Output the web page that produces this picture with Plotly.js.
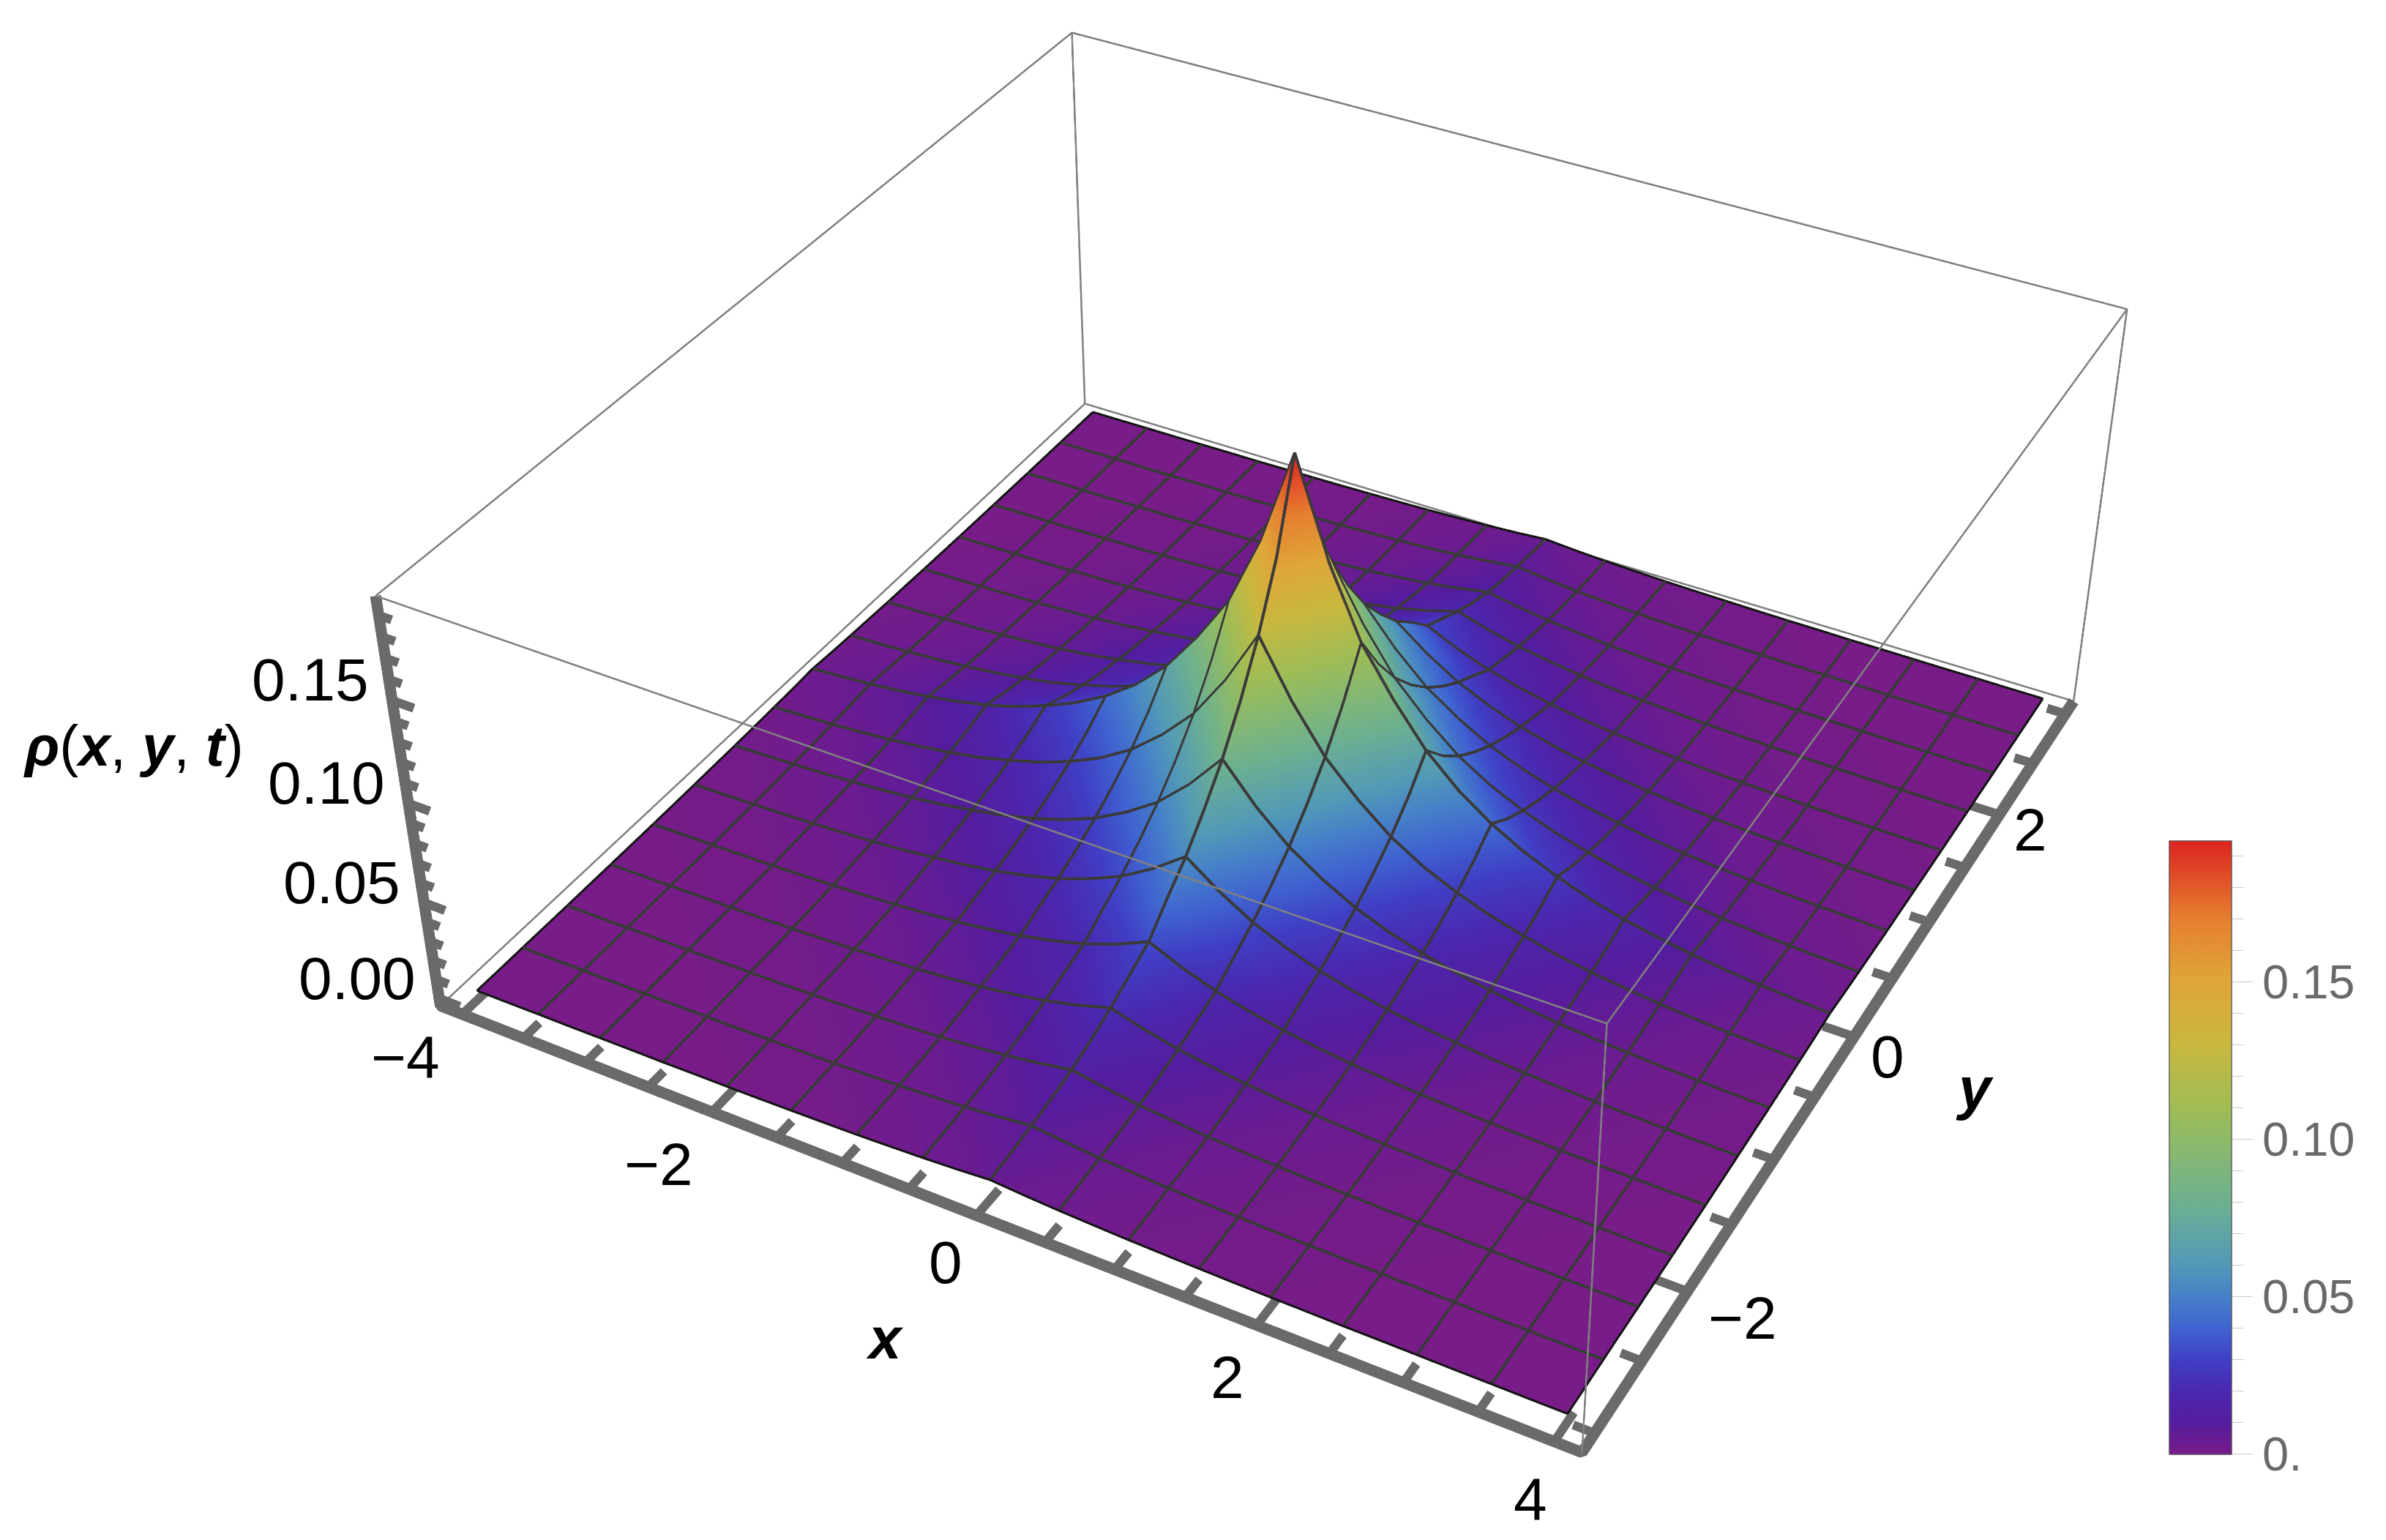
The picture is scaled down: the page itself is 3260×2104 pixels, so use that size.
<!DOCTYPE html>
<html><head><meta charset="utf-8">
<script src="https://cdn.plot.ly/plotly-3.0.1.min.js"></script>
<style>html,body{margin:0;padding:0;background:#fff;overflow:hidden;width:3260px;height:2104px}
#plot{position:absolute;left:0;top:-330px;width:3538px;height:2444px}</style>
</head><body><div id="plot"></div>
<script>
const xBox=[-4.18,4.18];
const yBox=[-3.13,3.13];
const zBox=[-0.0039,0.199];
const xAxisRange=[-4.19,4.19];
const yAxisRange=[-3.14,3.14];
const zAxisRange=[-0.0044,0.1995];
const xGrid=[-4,-3.75,-3.5,-3.25,-3,-2.75,-2.5,-2.25,-2,-1.75,-1.5,-1.25,-1,-0.75,-0.5,-0.25,0,0.25,0.5,0.75,1,1.25,1.5,1.75,2,2.25,2.5,2.75,3,3.25,3.5,3.75,4];
const yGrid=[-3,-2.8125,-2.625,-2.4375,-2.25,-2.0625,-1.875,-1.6875,-1.5,-1.3125,-1.125,-0.9375,-0.75,-0.5625,-0.375,-0.1875,0,0.1875,0.375,0.5625,0.75,0.9375,1.125,1.3125,1.5,1.6875,1.875,2.0625,2.25,2.4375,2.625,2.8125,3];
// rho for |y| (rows, outward from the peak) and |x| (columns, outward from the peak)
const rhoQuadrant=[
[.1950,.1482,.1130,.0893,.0690,.0540,.0425,.0335,.0265,.0205,.0160,.0125,.0097,.0075,.0058,.0045,.0035],
[.1539,.1200,.0923,.0723,.0559,.0437,.0344,.0271,.0215,.0166,.0130,.0101,.0079,.0061,.0047,.0036,.0028],
[.1254,.0978,.0752,.0589,.0455,.0356,.0281,.0221,.0175,.0135,.0106,.0083,.0064,.0050,.0038,.0030,.0023],
[.1026,.0800,.0616,.0482,.0373,.0292,.0230,.0181,.0143,.0111,.0086,.0068,.0052,.0041,.0031,.0024,.0019],
[.0836,.0652,.0502,.0393,.0304,.0238,.0187,.0147,.0117,.0090,.0070,.0055,.0043,.0033,.0026,.0020,.0015],
[.0684,.0534,.0410,.0321,.0248,.0194,.0153,.0121,.0095,.0074,.0058,.0045,.0035,.0027,.0021,.0016,.0013],
[.0551,.0430,.0331,.0259,.0200,.0157,.0123,.0097,.0077,.0059,.0046,.0036,.0028,.0022,.0017,.0013,.0010],
[.0447,.0348,.0268,.0210,.0162,.0127,.0100,.0079,.0062,.0048,.0038,.0029,.0023,.0018,.0014,.0011,.0008],
[.0333,.0259,.0200,.0156,.0121,.0095,.0074,.0059,.0046,.0036,.0028,.0022,.0017,.0013,.0010,.0008,.0006],
[.0276,.0215,.0165,.0129,.0100,.0078,.0062,.0049,.0038,.0030,.0023,.0018,.0014,.0011,.0008,.0007,.0005],
[.0219,.0170,.0131,.0103,.0079,.0062,.0049,.0039,.0030,.0024,.0018,.0014,.0011,.0009,.0007,.0005,.0004],
[.0171,.0133,.0103,.0080,.0062,.0049,.0038,.0030,.0024,.0018,.0014,.0011,.0009,.0007,.0005,.0004,.0003],
[.0133,.0104,.0080,.0063,.0048,.0038,.0030,.0023,.0019,.0014,.0011,.0009,.0007,.0005,.0004,.0003,.0002],
[.0105,.0082,.0063,.0049,.0038,.0030,.0023,.0018,.0015,.0011,.0009,.0007,.0005,.0004,.0003,.0002,.0002],
[.0086,.0067,.0051,.0040,.0031,.0024,.0019,.0015,.0012,.0009,.0007,.0006,.0004,.0003,.0003,.0002,.0002],
[.0067,.0052,.0040,.0031,.0024,.0019,.0015,.0012,.0009,.0007,.0006,.0004,.0003,.0003,.0002,.0002,.0001],
[.0053,.0041,.0032,.0025,.0019,.0015,.0012,.0009,.0007,.0006,.0004,.0004,.0003,.0002,.0002,.0001,.0001]];
const xMajorTicks=[-4,-2,0,2,4];
const xMinorTicks=[-3.5,-3,-2.5,-1.5,-1,-0.5,0.5,1,1.5,2.5,3,3.5];
const yMajorTicks=[-2,0,2];
const yMinorTicks=[-3,-2.5,-1.5,-1,-0.5,0.5,1,1.5,2.5,3];
const zMajorTicks=[0,0.05,0.1,0.15];
const zMinorTicks=[0.01,0.02,0.03,0.04,0.06,0.07,0.08,0.09,0.11,0.12,0.13,0.14,0.16,0.17,0.18,0.19];
const xTickLabels=['−4','−2','0','2','4'];
const yTickLabels=['−2','0','2'];
const zTickLabels=['0.00','0.05','0.10','0.15'];
const barTickLabels=['0.','0.05','0.10','0.15'];
const barMax=0.1948;
const rainbow=[[0,'#781c88'],[0.05,'#551c9e'],[0.103,'#4a28b0'],[0.154,'#403fc4'],[0.205,'#3f62d0'],[0.257,'#4680c8'],[0.308,'#5298b8'],[0.41,'#6cb090'],[0.513,'#8eba68'],[0.565,'#a0bc55'],[0.667,'#c8b840'],[0.77,'#dfa638'],[0.873,'#e67f30'],[1,'#dc2420']];

const zGrid=yGrid.map((_,j)=>xGrid.map((_,i)=>rhoQuadrant[Math.abs(j-16)][Math.abs(i-16)]));
const lift=0.0005;
function seg(list){const o={x:[],y:[],z:[]};list.forEach(s=>{s.forEach(p=>{o.x.push(p[0]);o.y.push(p[1]);o.z.push(p[2]);});o.x.push(null);o.y.push(null);o.z.push(null);});return o;}
function lineTrace(list,color,width){const s=seg(list);return {type:'scatter3d',mode:'lines',x:s.x,y:s.y,z:s.z,line:{color:color,width:width},hoverinfo:'skip',showlegend:false};}
const meshIdx=[];for(let k=2;k<32;k+=2)meshIdx.push(k);
const meshLines=[];
meshIdx.forEach(i=>meshLines.push(yGrid.map((y,j)=>[xGrid[i],y,zGrid[j][i]+lift])));
meshIdx.forEach(j=>meshLines.push(xGrid.map((x,i)=>[x,yGrid[j],zGrid[j][i]+lift])));
const edgeLines=[0,32].map(i=>yGrid.map((y,j)=>[xGrid[i],y,zGrid[j][i]+lift])).concat([0,32].map(j=>xGrid.map((x,i)=>[x,yGrid[j],zGrid[j][i]+lift])));
const [x0,x1]=xBox,[y0,y1]=yBox,[z0,z1]=zBox;
const box=[[[x0,y0,z1],[x1,y0,z1],[x1,y1,z1],[x0,y1,z1],[x0,y0,z1]],[[x1,y0,z0],[x1,y0,z1]],[[x1,y1,z0],[x1,y1,z1]],[[x0,y1,z0],[x0,y1,z1]],[[x0,y0,z0],[x0,y1,z0],[x1,y1,z0]]];
const frame=[[[x0,y0,z1],[x0,y0,z0],[x1,y0,z0],[x1,y1,z0]]];
const ticks=[];
xMajorTicks.forEach(v=>ticks.push([[v,y0,z0],[v,y0+0.2,z0]]));
xMinorTicks.forEach(v=>ticks.push([[v,y0,z0],[v,y0+0.13,z0]]));
yMajorTicks.forEach(v=>ticks.push([[x1,v,z0],[x1-0.22,v,z0]]));
yMinorTicks.forEach(v=>ticks.push([[x1,v,z0],[x1-0.14,v,z0]]));
zMajorTicks.forEach(v=>ticks.push([[x0,y0,v],[x0+0.17,y0,v]]));
zMinorTicks.forEach(v=>ticks.push([[x0,y0,v],[x0+0.1,y0,v]]));

const barX=2964/3538, barY=1-(1567.5+330)/2444;
const surface={type:'surface',x:xGrid,y:yGrid,z:zGrid,cmin:0,cmax:barMax,colorscale:rainbow,showscale:true,hoverinfo:'skip',
 lighting:{ambient:0.87,diffuse:1,specular:0,roughness:0.5,fresnel:0},
 lightposition:{x:6000,y:-800,z:8000},
 colorbar:{thickness:85,thicknessmode:'pixels',len:838,lenmode:'pixels',x:barX,xanchor:'left',y:barY,yanchor:'middle',xpad:0,ypad:0,outlinecolor:'#555',outlinewidth:1,
  tickmode:'array',tickvals:zMajorTicks,ticktext:barTickLabels,ticks:'outside',ticklen:29,tickwidth:1,tickcolor:'#c8c8c8',tickfont:{family:'Liberation Sans',size:65,color:'#696969'}}};
const minorBar={type:'scatter3d',mode:'markers',x:[0],y:[0],z:[0],hoverinfo:'skip',showlegend:false,
 marker:{size:1,opacity:0,color:[0],cmin:0,cmax:barMax,colorscale:rainbow,showscale:true,
  colorbar:{thickness:85,thicknessmode:'pixels',len:838,lenmode:'pixels',x:barX,xanchor:'left',y:barY,yanchor:'middle',xpad:0,ypad:0,outlinecolor:'#555',outlinewidth:1,
   tickmode:'array',tickvals:zMinorTicks,ticktext:zMinorTicks.map(()=>''),ticks:'outside',ticklen:16,tickwidth:1,tickcolor:'#c8c8c8',showticklabels:false}}};
const f={family:'Liberation Sans',color:'#000',size:82};
const xLabelShiftX=[-77,-73,-42,-40,-33];
const xLabelShiftY=[-59,-71,-64,-71,-79];
const yLabelShiftX=[75,46,42];
const yLabelShiftY=[-36,-27,-21];
const ann=[];
xMajorTicks.forEach((v,i)=>ann.push({x:v,y:y0,z:z0,text:xTickLabels[i],showarrow:false,font:f,xshift:xLabelShiftX[i],yshift:xLabelShiftY[i]}));
yMajorTicks.forEach((v,i)=>ann.push({x:x1,y:v,z:z0,text:yTickLabels[i],showarrow:false,font:f,xshift:yLabelShiftX[i],yshift:yLabelShiftY[i]}));
zMajorTicks.forEach((v,i)=>ann.push({x:x0,y:y0,z:v,text:zTickLabels[i],showarrow:false,font:f,xshift:-112,yshift:28}));
const tf={family:'Liberation Sans',color:'#000',size:78};
ann.push({x:x0,y:y0,z:0.118,text:'<b><i>ρ</i></b>(<b><i>x</i></b>, <b><i>y</i></b>, <b><i>t</i></b>)',showarrow:false,font:tf,xshift:-368,yshift:29});
ann.push({x:0,y:y0,z:z0,text:'<b><i>x</i></b>',showarrow:false,font:{...tf,size:80},xshift:-125,yshift:-168});
ann.push({x:x1,y:0,z:z0,text:'<b><i>y</i></b>',showarrow:false,font:{...tf,size:80},xshift:165,yshift:-70});
const off={showgrid:false,showline:false,zeroline:false,showticklabels:false,ticks:'',showspikes:false,showbackground:false,title:{text:''},autorange:false};
const layout={width:3538,height:2444,margin:{l:0,r:0,t:0,b:0,autoexpand:false},paper_bgcolor:'#fff',showlegend:false,
 scene:{domain:{x:[0,1],y:[0,1]},aspectmode:'manual',aspectratio:{x:1,y:1,z:0.4},
  xaxis:{...off,range:xAxisRange},yaxis:{...off,range:yAxisRange},zaxis:{...off,range:zAxisRange},
  camera:{eye:{x:1.3,y:-2.4,z:2},center:{x:0,y:0,z:0},up:{x:0,y:0,z:1}},annotations:ann}};
const traces=[surface,minorBar,lineTrace(box,'#808080',5),lineTrace(meshLines,'#3a3a3a',8),lineTrace(edgeLines,'#151515',6),lineTrace(frame,'#6a6a6a',30),lineTrace(ticks,'#6a6a6a',24)];
// The scene's field of view is not a layout attribute: set it on an empty scene, before the marks are drawn.
Plotly.newPlot('plot',[minorBar],layout,{displayModeBar:false}).then(gd=>{
 const g=gd._fullLayout.scene._scene.glplot;g.fovy=0.4176;
 return Plotly.react(gd,traces,layout,{displayModeBar:false});
});
</script></body></html>
